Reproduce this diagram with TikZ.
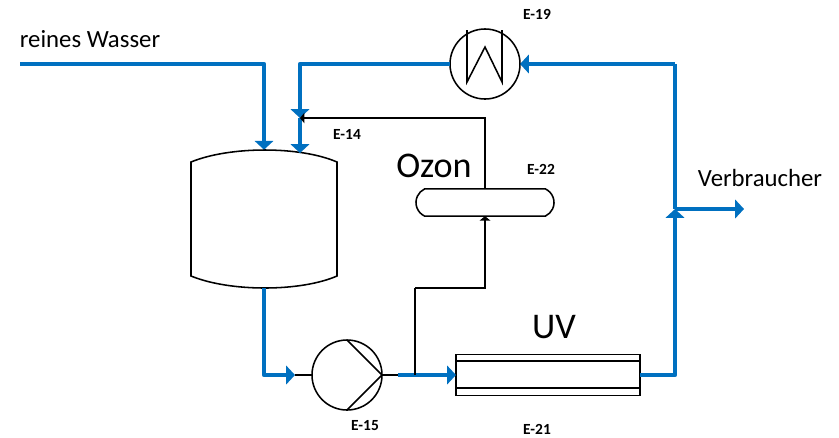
\documentclass[tikz,border=0pt]{standalone}
\usepackage{fontspec}
\setmainfont{Carlito}
\usetikzlibrary{arrows.meta,shapes.misc}
\definecolor{pipeblue}{HTML}{0070C0}
\tikzset{
  pipe/.style={draw=pipeblue, line width=3.1pt, line join=round},
  pipeflow/.style={pipe, -{Triangle[length=2.2mm,width=4.6mm]}},
  signal/.style={draw=black, line width=0.75pt},
  signalflow/.style={signal, -{Triangle[length=1.1mm,width=2.6mm]}},
  unit/.style={draw=black, line width=1.1pt, inner sep=0pt, outer sep=0pt},
  tagtext/.style={font=\fontsize{11}{13}\selectfont\bfseries},
  streamtext/.style={font=\fontsize{17.6}{20}\selectfont},
  bigtext/.style={font=\fontsize{25.7}{29}\selectfont}
}
\begin{document}
\begin{tikzpicture}[x=0.025cm, y=-0.025cm]
\useasboundingbox (0,0) rectangle (839,437);

\node[minimum width=3.65cm, minimum height=3.45cm] (tank) at (264,219) {};
\node[unit, circle, minimum size=1.75cm] (cooler) at (485,64) {};
\node[unit, circle, minimum size=1.75cm] (pump) at (347,375) {};
\node[unit, rounded rectangle, rounded rectangle arc length=130, minimum width=3.45cm, minimum height=0.68cm] (ozone) at (485,202.5) {};
\node[unit, rectangle, minimum width=4.6cm, minimum height=1.02cm] (uv) at (548,375) {};

\node[streamtext] (feedlabel) at (90,39) {reines Wasser};
\node[streamtext] (outlabel) at (760,178) {Verbraucher};
\node[bigtext] (ozonelabel) at (434,166) {Ozon};
\node[bigtext] (uvlabel) at (554,327) {UV};
\node[tagtext] (E19) at (537,14) {E-19};
\node[tagtext] (E14) at (347,134) {E-14};
\node[tagtext] (E22) at (541,169) {E-22};
\node[tagtext] (E15) at (365,426) {E-15};
\node[tagtext] (E21) at (537,429) {E-21};

\coordinate (feed) at (20,64);
\coordinate (inlet) at (300,153);
\coordinate (dosing) at (300,118);
\coordinate (pumpin) at (295,375);
\coordinate (pumpout) at (398,375);
\coordinate (branch) at (415,375);
\coordinate (kink) at (415,288);
\coordinate (split) at (675,209);
\coordinate (out) at (744,209);

% vessel and inner details
\draw[unit] (191,162) .. controls (230,146) and (300,146) .. (337,162) -- (337,276)
  .. controls (300,292) and (230,292) .. (191,276) -- cycle;
\draw[unit] (467,30) -- (467,82) -- (485,47) -- (502,82) -- (502,30);
\draw[unit] (347,340) -- (pump.east) -- (347,410);
\draw[unit] (456,361) -- (640,361);
\draw[unit] (456,388) -- (640,388);

% water loop
\draw[pipeflow] (feed) -| (tank.north);
\draw[pipeflow] (tank.south) |- (pumpin);
\draw[pipeflow] (pumpout) -- (uv.west);
\draw[pipeflow] (uv.east) -| (split);
\draw[pipe] (split) -- (675,64);
\draw[pipeflow] (675,64) -- (cooler.east);
\draw[pipeflow] (split) -- (out);
\draw[pipeflow] (cooler.west) -| (dosing);
\draw[pipeflow] (dosing) -- (inlet);

% ozone line
\draw[unit, line width=1.5pt] (pumpin) -- (pump.west);
\draw[unit, line width=1.5pt] (pump.east) -- (pumpout);
\draw[signal] (branch) -- (kink);
\draw[signalflow] (kink) -| (ozone.south);
\draw[signalflow] (ozone.north) |- (dosing);
\end{tikzpicture}
\end{document}
